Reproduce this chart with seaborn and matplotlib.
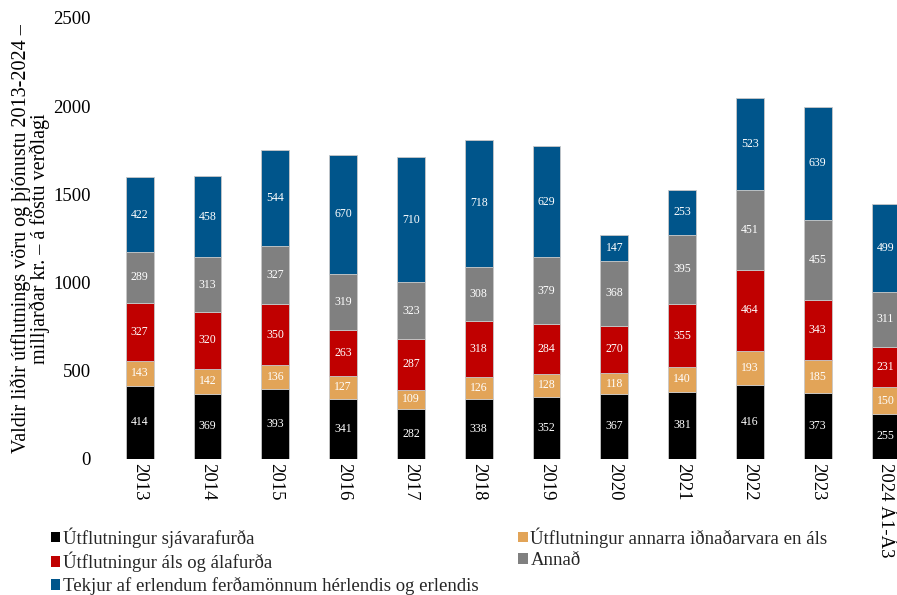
import numpy as np
import pandas as pd
import matplotlib
matplotlib.use("Agg")
import matplotlib.pyplot as plt
from matplotlib.patches import Patch
import seaborn as sns

years = ['2013', '2014', '2015', '2016', '2017', '2018', '2019', '2020',
         '2021', '2022', '2023', '2024 Á1-Á3']

sjavarafurdir = [414, 369, 393, 341, 282, 338, 352, 367, 381, 416, 373, 255]
idnadarvorur = [143, 142, 136, 127, 109, 126, 128, 118, 140, 193, 185, 150]
alafurdir = [327, 320, 350, 263, 287, 318, 284, 270, 355, 464, 343, 231]
annad = [289, 313, 327, 319, 323, 308, 379, 368, 395, 451, 455, 311]
ferdamenn = [422, 458, 544, 670, 710, 718, 629, 147, 253, 523, 639, 499]

series = [
    ('Útflutningur sjávarafurða', sjavarafurdir, '#000000'),
    ('Útflutningur annarra iðnaðarvara en áls', idnadarvorur, '#E2A458'),
    ('Útflutningur áls og álafurða', alafurdir, '#C00000'),
    ('Annað', annad, '#808080'),
    ('Tekjur af erlendum ferðamönnum hérlendis og erlendis', ferdamenn, '#00558B'),
]

sns.set_theme(style='white')
plt.rcParams['font.family'] = ['Liberation Serif', 'DejaVu Serif']

fig = plt.figure(figsize=(8.97, 5.95), dpi=100)
ax = fig.add_axes([0.118, 0.229, 0.907, 0.741])

bottom = np.zeros(len(years))
for name, vals, col in series:
    sns.barplot(x=years, y=vals, bottom=bottom, color=col, saturation=1,
                width=0.41, edgecolor='#C8C8C8', linewidth=0.6, ax=ax)
    cont = ax.containers[-1]
    ax.bar_label(cont, labels=[str(v) for v in vals], label_type='center',
                 color='white', fontsize=8.5)
    bottom = bottom + np.array(vals)

ax.set_ylim(0, 2500)
ax.set_yticks(range(0, 2501, 500))
ax.tick_params(axis='both', length=0, labelsize=13.5, colors='black')
ax.tick_params(axis='x', pad=3)
ax.tick_params(axis='y', pad=11)
plt.setp(ax.get_xticklabels(), rotation=-90, va='top', ha='center')
ax.set_ylabel('Valdir liðir útflutnings vöru og þjónustu 2013-2024 –\n'
              'milljarðar kr. – á föstu verðlagi', fontsize=14.5, color='black',
              linespacing=0.9, labelpad=2)
sns.despine(ax=ax, left=True, bottom=True)

order = [0, 2, 4, 1, 3]
handles = [Patch(facecolor=series[i][2], edgecolor='none') for i in order]
labels = [series[i][0] for i in order]
fig.legend(handles, labels, loc='upper left', bbox_to_anchor=(0.0569, 0.114),
           ncol=2, frameon=False, fontsize=13.5, handlelength=0.5,
           handleheight=0.5, handletextpad=0.15, columnspacing=2.1,
           labelspacing=0.23, borderaxespad=0, borderpad=0)

fig.savefig('out.png', dpi=100)
